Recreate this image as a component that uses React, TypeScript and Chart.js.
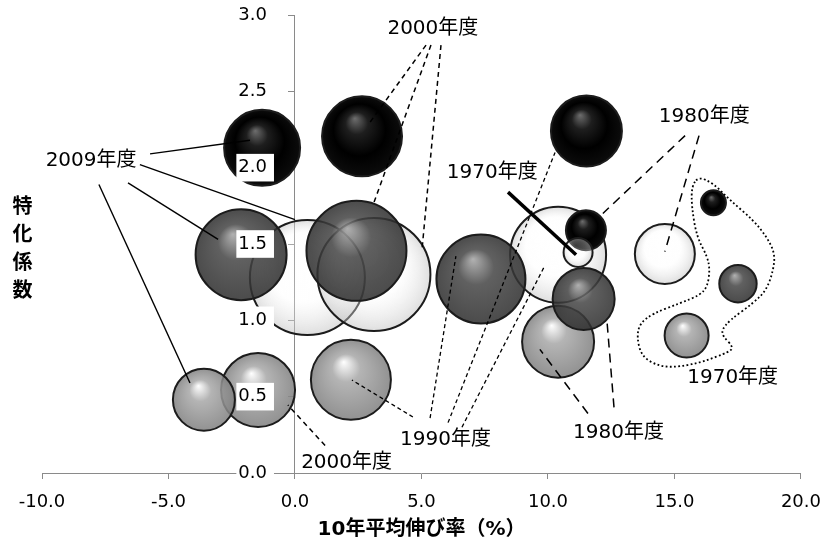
import React, { useEffect, useRef } from 'react';
import { Chart, registerables } from 'chart.js';

Chart.register(...registerables);

// ---- data ----
const YEARS = ['1970年度', '1980年度', '1990年度', '2000年度', '2009年度'];

// series A (black spheres)
const blackX = [16.54, 11.5, 11.52, 2.65, -1.3];
const blackY = [1.77, 1.59, 2.24, 2.205, 2.13];
const blackR = [12.5, 20, 35.5, 40, 38];
// series B (dark grey spheres)
const darkX = [17.51, 11.41, 7.35, 2.43, -2.13];
const darkY = [1.24, 1.14, 1.27, 1.455, 1.43];
const darkR = [18.7, 31, 44.5, 50, 45.5];
// series C (white translucent spheres)
const whiteX = [11.19, 14.62, 10.4, 3.12, 0.49];
const whiteY = [1.445, 1.435, 1.43, 1.3, 1.28];
const whiteR = [14.5, 30, 48, 56.5, 57.5];
// series D (light grey spheres)
const lightX = [15.48, 10.4, 2.21, -1.46, -3.6];
const lightY = [0.9, 0.86, 0.61, 0.544, 0.48];
const lightR = [22, 36, 40, 37, 31];

const X_MIN = -10;
const X_MAX = 20;
const X_STEP = 5;
const Y_MIN = 0;
const Y_MAX = 3;
const Y_STEP = 0.5;

const X_TITLE = '10年平均伸び率（%）';
const Y_TITLE = ['特', '化', '係', '数'];

// annotation labels (data coordinates)
const LABEL_TEXT = ['2009年度', '2000年度', '2000年度', '1990年度', '1980年度', '1980年度', '1970年度', '1970年度'];
const LABEL_X = [-8.06, 5.45, 2.04, 5.95, 16.18, 12.79, 7.8, 17.3];
const LABEL_Y = [2.044, 2.908, 0.066, 0.216, 2.332, 0.262, 1.965, 0.622];

// leader lines [x1, y1, x2, y2] in data coordinates
const LINES_2009 = [
  [-5.73, 2.09, -1.78, 2.18],
  [-6.13, 2.02, 0.0, 1.66],
  [-6.6, 1.9, -3.04, 1.53],
  [-7.75, 1.89, -4.15, 0.59],
];
const LINES_2000_TOP = [
  [5.18, 2.803, 2.885, 2.279],
  [5.375, 2.803, 3.083, 1.755],
  [5.771, 2.803, 5.02, 1.461],
];
const LINES_2000_BOTTOM = [[1.19, 0.18, -0.28, 0.445]];
const LINES_1990 = [
  [4.66, 0.367, 2.25, 0.609],
  [5.34, 0.36, 6.36, 1.42],
  [6.05, 0.33, 10.28, 2.1],
  [6.6, 0.3, 9.88, 1.36],
];
const LINES_1980 = [
  [15.42, 2.21, 12.17, 1.7],
  [15.97, 2.21, 14.62, 1.45],
  [11.58, 0.39, 9.68, 0.81],
  [12.61, 0.43, 12.33, 1.0],
];
const LINES_1970 = [[8.42, 1.84, 11.11, 1.43]];

// dotted enclosure around the 1970 group
const LOOP_X = [15.94, 15.68, 15.68, 15.88, 16.3, 16.4, 16.3, 16.01, 15.22, 14.16, 13.64, 13.51, 13.7, 14.43, 15.22, 16.14, 17.19, 17.32, 16.93, 16.87, 17.19, 18.11, 18.64, 18.91, 18.97, 18.64, 18.11, 17.19, 16.53, 16.14];
const LOOP_Y = [1.941, 1.875, 1.744, 1.548, 1.417, 1.33, 1.22, 1.166, 1.112, 1.046, 0.981, 0.893, 0.762, 0.696, 0.696, 0.729, 0.795, 0.827, 0.893, 0.937, 1.002, 1.112, 1.199, 1.33, 1.439, 1.548, 1.657, 1.788, 1.898, 1.941];

// ---- styles ----
const FONT = "'DejaVu Sans', 'Noto Sans CJK JP', sans-serif";
const AXIS_GREY = '#8a8a8a';

const STOPS: Record<string, [number, string][]> = {
  black: [[0, 'rgb(110,110,110)'], [0.28, 'rgb(30,30,30)'], [0.65, 'rgb(0,0,0)'], [1, 'rgb(12,12,12)']],
  dark: [[0, 'rgba(165,165,165,0.86)'], [0.4, 'rgba(70,70,70,0.86)'], [1, 'rgba(46,46,46,0.86)']],
  white: [[0, 'rgba(255,255,255,0.2)'], [0.6, 'rgba(252,252,252,0.3)'], [1, 'rgba(190,190,190,0.5)']],
  light: [[0, 'rgba(255,255,255,0.86)'], [0.35, 'rgba(168,168,168,0.86)'], [1, 'rgba(128,128,128,0.86)']],
};

const SERIES = [
  { key: 'black', xs: blackX, ys: blackY, rs: blackR },
  { key: 'dark', xs: darkX, ys: darkY, rs: darkR },
  { key: 'white', xs: whiteX, ys: whiteY, rs: whiteR },
  { key: 'light', xs: lightX, ys: lightY, rs: lightR },
];

function sphereFill(key: string) {
  const stops = STOPS[key];
  return (context: any) => {
    const chart = context.chart;
    const raw = context.raw;
    const fallback = stops[stops.length - 1][1];
    if (!raw || !chart.chartArea || !chart.scales.x || !chart.scales.y) return fallback;
    const cx = chart.scales.x.getPixelForValue(raw.x);
    const cy = chart.scales.y.getPixelForValue(raw.y);
    const r = raw.r;
    if (!isFinite(cx) || !isFinite(cy) || !r) return fallback;
    const g = chart.ctx.createRadialGradient(cx - 0.18 * r, cy - 0.45 * r, 0, cx, cy, r);
    stops.forEach(([o, c]) => g.addColorStop(o, c));
    return g;
  };
}

function buildDatasets() {
  const items: any[] = [];
  SERIES.forEach((s) => {
    s.xs.forEach((xv, i) => {
      items.push({
        label: s.key + ' ' + YEARS[i],
        data: [{ x: xv, y: s.ys[i], r: s.rs[i] }],
        order: s.rs[i],
        backgroundColor: sphereFill(s.key),
        borderColor: '#1c1c1c',
        borderWidth: 2,
        clip: false,
      });
    });
  });
  return items;
}

const annotationPlugin = {
  id: 'leaderAnnotations',
  afterDatasetsDraw(chart: any) {
    const { ctx } = chart;
    const xs = chart.scales.x;
    const ys = chart.scales.y;
    const px = (v: number) => xs.getPixelForValue(v);
    const py = (v: number) => ys.getPixelForValue(v);
    const groups = [
      { lines: LINES_2009, width: 1.4, dash: [] as number[] },
      { lines: LINES_2000_TOP, width: 1.5, dash: [5, 4] },
      { lines: LINES_2000_BOTTOM, width: 1.5, dash: [5, 4] },
      { lines: LINES_1990, width: 1.3, dash: [4, 3] },
      { lines: LINES_1980, width: 1.5, dash: [9, 6] },
      { lines: LINES_1970, width: 3.5, dash: [] as number[] },
    ];
    ctx.save();
    ctx.strokeStyle = '#000';
    groups.forEach((g) => {
      ctx.lineWidth = g.width;
      ctx.setLineDash(g.dash);
      g.lines.forEach(([x1, y1, x2, y2]) => {
        ctx.beginPath();
        ctx.moveTo(px(x1), py(y1));
        ctx.lineTo(px(x2), py(y2));
        ctx.stroke();
      });
    });
    // dotted smooth enclosure
    const pts = LOOP_X.map((v, i) => [px(v), py(LOOP_Y[i])]);
    const n = pts.length - 1;
    ctx.lineWidth = 1.8;
    ctx.setLineDash([1.8, 2.4]);
    ctx.beginPath();
    const mid = (a: number[], b: number[]) => [(a[0] + b[0]) / 2, (a[1] + b[1]) / 2];
    const m0 = mid(pts[0], pts[1]);
    ctx.moveTo(m0[0], m0[1]);
    for (let i = 1; i <= n; i++) {
      const p = pts[i % n];
      const m = mid(p, pts[(i + 1) % n]);
      ctx.quadraticCurveTo(p[0], p[1], m[0], m[1]);
    }
    ctx.closePath();
    ctx.stroke();
    // texts
    ctx.setLineDash([]);
    ctx.fillStyle = '#000';
    ctx.font = '20px ' + FONT;
    ctx.textAlign = 'center';
    ctx.textBaseline = 'middle';
    LABEL_TEXT.forEach((t, i) => ctx.fillText(t, px(LABEL_X[i]), py(LABEL_Y[i])));
    ctx.restore();
  },
  afterDraw(chart: any) {
    const { ctx } = chart;
    ctx.save();
    ctx.fillStyle = '#000';
    ctx.font = 'bold 20px ' + FONT;
    ctx.textAlign = 'center';
    ctx.textBaseline = 'middle';
    Y_TITLE.forEach((c, i) => ctx.fillText(c, 22.5, 208 + i * 28));
    ctx.restore();
  },
};

export default function App() {
  const ref = useRef<HTMLCanvasElement | null>(null);
  useEffect(() => {
    if (!ref.current) return;
    const chart = new Chart(ref.current, {
      type: 'bubble',
      data: { datasets: buildDatasets() },
      options: {
        responsive: false,
        animation: false,
        events: [],
        layout: { autoPadding: false, padding: { left: 42, right: 21, top: 15, bottom: 12 } },
        plugins: { legend: { display: false }, tooltip: { enabled: false }, title: { display: false } },
        scales: {
          x: {
            type: 'linear',
            position: 'bottom',
            min: X_MIN,
            max: X_MAX,
            ticks: {
              stepSize: X_STEP,
              color: '#000',
              font: { family: FONT, size: 18, lineHeight: 2.5 },
              padding: 1,
              callback: (v: any) => Number(v).toFixed(1),
            },
            grid: { display: true, drawOnChartArea: false, drawTicks: true, tickLength: 6, color: AXIS_GREY },
            border: { display: true, color: AXIS_GREY, width: 1 },
            title: {
              display: true,
              text: X_TITLE,
              color: '#000',
              font: { family: FONT, size: 20, weight: 'bold' },
              padding: { top: -8, bottom: 4 },
            },
          },
          y: {
            type: 'linear',
            position: { x: 0 } as any,
            min: Y_MIN,
            max: Y_MAX,
            ticks: { stepSize: Y_STEP, display: false },
            grid: { display: true, drawOnChartArea: false, drawTicks: true, tickLength: 6, color: AXIS_GREY },
            border: { display: true, color: AXIS_GREY, width: 1 },
          },
          yLabels: {
            type: 'linear',
            position: { x: -1.107 } as any,
            min: Y_MIN,
            max: Y_MAX,
            ticks: {
              z: 1,
              stepSize: Y_STEP,
              color: '#000',
              padding: 0,
              font: { family: FONT, size: 18 },
              showLabelBackdrop: true,
              backdropColor: '#fff',
              backdropPadding: { top: 3, bottom: 3, left: 2, right: 7 },
              callback: (v: any) => Number(v).toFixed(1),
            } as any,
            grid: { display: false, drawTicks: false },
            border: { display: false },
          },
        },
      },
      plugins: [annotationPlugin],
    });
    return () => chart.destroy();
  }, []);
  return (
    <div style={{ position: 'fixed', left: 0, top: 0, width: 822, height: 558, background: '#fff' }}>
      <canvas ref={ref} width={822} height={558} style={{ display: 'block' }} />
    </div>
  );
}
